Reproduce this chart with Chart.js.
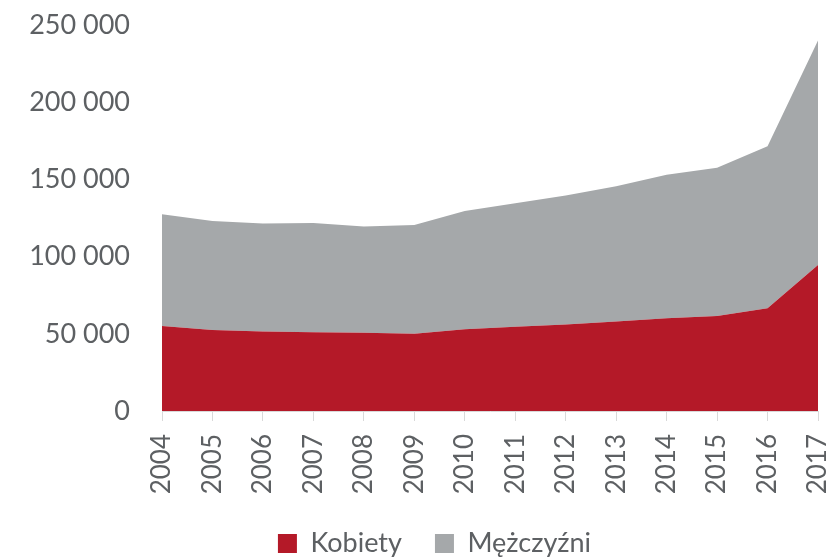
<!DOCTYPE html>
<html>
<head>
<meta charset="utf-8">
<script src="https://cdn.jsdelivr.net/npm/chart.js@4"></script>
<style>
  html, body { margin: 0; padding: 0; background: #fff; }
  #wrap { width: 833px; height: 557px; }
</style>
</head>
<body>
<div id="wrap"><canvas id="wykres"></canvas></div>
<script>
// dane
const lata = ['2004', '2005', '2006', '2007', '2008', '2009', '2010', '2011', '2012', '2013', '2014', '2015', '2016', '2017'];
const kobiety = [55000, 52500, 51500, 51000, 50700, 50000, 53000, 54500, 56000, 58000, 60000, 61500, 66500, 94500];
const mezczyzni = [72500, 70500, 70000, 70700, 68800, 70500, 76500, 80000, 83500, 87500, 93000, 96000, 105000, 145500];

function formatujLiczbe(v) {
    return String(v).replace(/\B(?=(\d{3})+(?!\d))/g, ' ');
}

const kolorTekstu = '#5d6063';
const rodzina = 'Lato, "Open Sans", sans-serif';

// legenda w oryginale jest lekko przesunięta w prawo
const przesunLegende = {
    id: 'przesunLegende',
    afterLayout(chart) {
        chart.legend.left += 18;
        chart.legend.right += 18;
    }
};

new Chart(document.getElementById('wykres'), {
    type: 'line',
    data: {
        labels: lata,
        datasets: [{
            label: 'Kobiety',
            data: kobiety,
            backgroundColor: '#B41928',
            borderWidth: 0,
            pointRadius: 0,
            fill: 'origin'
        }, {
            label: 'Mężczyźni',
            data: mezczyzni,
            backgroundColor: '#A5A8AA',
            borderWidth: 0,
            pointRadius: 0,
            fill: '-1'
        }]
    },
    options: {
        responsive: true,
        maintainAspectRatio: false,
        animation: false,
        layout: { padding: { top: 0, right: 0, left: 0, bottom: -10 } },
        plugins: {
            tooltip: { enabled: false },
            legend: {
                position: 'bottom',
                labels: {
                    color: kolorTekstu,
                    font: { family: rodzina, size: 27 },
                    boxWidth: 19,
                    boxHeight: 19,
                    padding: 33
                }
            }
        },
        scales: {
            x: {
                offset: false,
                grid: { drawOnChartArea: false, drawTicks: true, tickLength: 10, color: '#d9d9d9' },
                border: { color: '#d9d9d9', width: 1 },
                ticks: { color: kolorTekstu, font: { family: rodzina, size: 26 }, padding: 13, maxRotation: 90, minRotation: 90, autoSkip: false },
                afterFit: skala => {
                    skala.paddingLeft = 0;
                    skala.paddingRight = 15;
                    skala.height = 86;
                }
            },
            y: {
                stacked: true,
                min: 0,
                max: 250000,
                grid: { display: false },
                border: { display: false },
                ticks: {
                    stepSize: 50000,
                    color: kolorTekstu,
                    font: { family: rodzina, size: 27 },
                    padding: 24,
                    callback: v => formatujLiczbe(v)
                },
                afterFit: skala => {
                    skala.width = 162;
                    skala.paddingTop = 25;
                    skala.paddingBottom = 0;
                }
            }
        }
    },
    plugins: [przesunLegende]
});
</script>
</body>
</html>
